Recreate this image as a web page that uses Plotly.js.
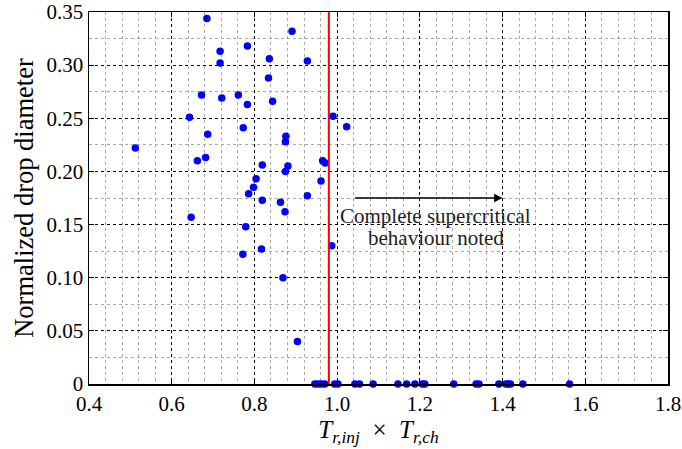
<!DOCTYPE html>
<html>
<head>
<meta charset="utf-8">
<script src="https://cdn.plot.ly/plotly-3.0.1.min.js"></script>
<style>html,body{margin:0;padding:0;background:#fff;}#chart{width:682px;height:449px;}</style>
</head>
<body>
<div id="chart"></div>
<script>
// Drops with measurable diameter
const tempProduct = [0.685,0.891,0.783,0.717,0.836,0.928,0.717,0.834,0.672,0.721,0.761,0.783,0.844,0.643,0.990,1.023,0.773,0.687,0.876,0.875,0.512,0.662,0.682,0.819,0.881,0.875,0.965,0.971,0.804,0.961,0.798,0.786,0.928,0.819,0.863,0.874,0.647,0.779,0.772,0.817,0.987,0.869,0.904];
const dropDiameter = [0.344,0.332,0.318,0.313,0.306,0.304,0.302,0.288,0.272,0.269,0.272,0.263,0.266,0.251,0.252,0.242,0.241,0.235,0.233,0.228,0.222,0.210,0.213,0.206,0.205,0.200,0.210,0.208,0.193,0.191,0.185,0.179,0.177,0.173,0.171,0.162,0.157,0.148,0.122,0.127,0.130,0.100,0.040];
// Complete supercritical (zero diameter) cases
const tempProductSuper = [0.946,0.954,0.962,0.970,0.994,1.002,1.043,1.054,1.087,1.147,1.168,1.188,1.206,1.212,1.282,1.336,1.343,1.391,1.408,1.414,1.419,1.449,1.562];
const dropDiameterSuper = [0,0,0,0,0,0,0,0,0,0,0,0,0,0,0,0,0,0,0,0,0,0,0];
const threshold = 0.98;
const xTicks = [0.4,0.6,0.8,1.0,1.2,1.4,1.6,1.8];
const xTickText = ['0.4','0.6','0.8','1.0','1.2','1.4','1.6','1.8'];
const yTicks = [0,0.05,0.10,0.15,0.20,0.25,0.30,0.35];
const yTickText = ['0','0.05','0.10','0.15','0.20','0.25','0.30','0.35'];
const arrowStart = 1.04, arrowEnd = 1.40, arrowY = 0.175;
const noteLines = ['Complete supercritical', 'behaviour noted'];
const noteX = 1.238, noteY = [0.1585, 0.1375];

const font = 'Liberation Serif, Times New Roman, serif';
const marker = {color:'#0000ff', size:7.5};
const traces = [
  {x: tempProduct, y: dropDiameter, mode:'markers', type:'scatter', marker: marker, cliponaxis:false},
  {x: tempProductSuper, y: dropDiameterSuper, mode:'markers', type:'scatter', marker: marker, cliponaxis:false}
];
const axisCommon = {
  showline:true, linecolor:'#000', linewidth:1.5, mirror:'ticks',
  ticks:'inside', ticklen:5, tickcolor:'#000', tickwidth:1,
  showgrid:true, gridcolor:'#000', griddash:'dot', gridwidth:1,
  zeroline:false, tickfont:{family:font, size:21, color:'#000'},
  ticklabeloverflow:'allow'
};
const layout = {
  width:682, height:449,
  margin:{l:89, r:14, t:12, b:65},
  paper_bgcolor:'#fff', plot_bgcolor:'#fff',
  showlegend:false,
  font:{family:font, color:'#000'},
  xaxis: Object.assign({}, axisCommon, {
    range:[0.4,1.8], tickvals:xTicks, ticktext:xTickText,
    minor:{dtick:0.04, tick0:0.4, showgrid:true, gridcolor:'#aaa', griddash:'dot', gridwidth:1, ticks:''},
    title:{text:'<i>T</i><sub><i>r,inj</i></sub>  ×  <i>T</i><sub><i>r,ch</i></sub>', font:{family:font, size:25, color:'#000'}, standoff:4}
  }),
  yaxis: Object.assign({}, axisCommon, {
    range:[0,0.35], tickvals:yTicks, ticktext:yTickText,
    minor:{dtick:0.025, tick0:0, showgrid:true, gridcolor:'#aaa', griddash:'dot', gridwidth:1, ticks:''},
    title:{text:'Normalized drop diameter', font:{family:font, size:26.5, color:'#000'}, standoff:5}
  }),
  shapes:[
    {type:'line', xref:'x', yref:'y', x0:threshold, x1:threshold, y0:0, y1:0.35, line:{color:'#ff0000', width:2}, layer:'above'}
  ],
  annotations:[
    {xref:'x', yref:'y', axref:'x', ayref:'y', x:arrowEnd, y:arrowY, ax:arrowStart, ay:arrowY,
     showarrow:true, arrowhead:2, arrowsize:1.3, arrowwidth:1.3, arrowcolor:'#000', text:''},
    {xref:'x', yref:'y', x:noteX, y:noteY[0], text:noteLines[0], showarrow:false,
     font:{family:font, size:21, color:'#222'}},
    {xref:'x', yref:'y', x:noteX, y:noteY[1], text:noteLines[1], showarrow:false,
     font:{family:font, size:21, color:'#222'}}
  ]
};
Plotly.newPlot('chart', traces, layout, {displayModeBar:false, staticPlot:true});
</script>
</body>
</html>
